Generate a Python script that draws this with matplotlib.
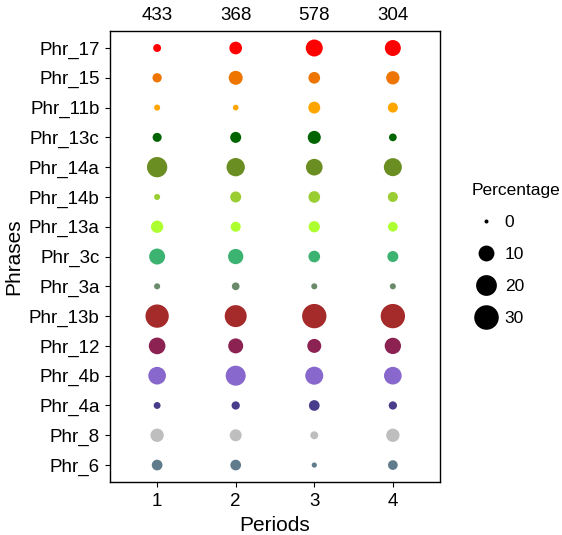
import numpy as np
import matplotlib
matplotlib.use("Agg")
import matplotlib.pyplot as plt
from matplotlib.lines import Line2D

plt.rcParams["font.family"] = ["Liberation Sans", "DejaVu Sans"]

# Phrase categories, top to bottom
phrases = ["Phr_17", "Phr_15", "Phr_11b", "Phr_13c", "Phr_14a", "Phr_14b",
           "Phr_13a", "Phr_3c", "Phr_3a", "Phr_13b", "Phr_12", "Phr_4b",
           "Phr_4a", "Phr_8", "Phr_6"]
phrase_colors = ["#FF0000", "#EE7600", "#FFA500", "#006400", "#6B8E23", "#9ACD32",
                 "#ADFF2F", "#3CB371", "#698B69", "#A52A2A", "#8B2252", "#8968CD",
                 "#483D8B", "#BEBEBE", "#607B8B"]

periods = [1, 2, 3, 4]
period_counts = [433, 368, 578, 304]

# Percentage of each phrase within each period (one list per period)
pct_p1 = [1.1, 2.0, 0.3, 1.8, 18.9, 0.3, 4.9, 10.2, 0.3, 26.5, 11.4, 13.3, 0.6, 6.2, 3.2]
pct_p2 = [5.4, 7.1, 0.2, 3.5, 14.6, 3.5, 2.6, 9.1, 1.0, 23.0, 8.6, 18.2, 1.3, 4.5, 3.2]
pct_p3 = [12.0, 4.2, 4.5, 5.8, 11.4, 4.2, 3.8, 4.2, 0.3, 29.4, 7.1, 14.0, 3.2, 1.1, 0.1]
pct_p4 = [10.2, 6.2, 2.6, 1.0, 14.0, 2.6, 2.3, 3.5, 0.3, 29.4, 10.8, 13.3, 1.3, 6.2, 2.3]

legend_values = [0, 10, 20, 30]

DPI = 100


def diameter_pt(v):
    """Area-style size scale: marker diameter in points for a percentage."""
    d_px = 4.0 + 3.75 * np.sqrt(np.asarray(v, dtype=float))
    return d_px * 72.0 / DPI


fig = plt.figure(figsize=(5.62, 5.35), dpi=DPI)
ax = fig.add_axes([0.1957, 0.099, 0.5872, 0.843])

n = len(phrases)
ypos = np.arange(n, 0, -1)  # Phr_17 at top
for per, pct in zip(periods, [pct_p1, pct_p2, pct_p3, pct_p4]):
    ax.scatter(np.full(n, per), ypos, s=diameter_pt(pct) ** 2,
               c=phrase_colors, linewidths=0, zorder=3)

ax.set_xlim(0.4, 4.6)
ax.set_ylim(0.43, n + 0.57)
ax.set_xticks(periods)
ax.set_xticklabels([str(p) for p in periods])
ax.set_yticks(ypos)
ax.set_yticklabels(phrases)
ax.tick_params(axis="both", labelsize=13.5, colors="black", length=3.5, width=0.8, pad=4)
ax.tick_params(axis="x", pad=4.5)

for sp in ax.spines.values():
    sp.set_linewidth(1.0)
    sp.set_color("black")

ax.set_xlabel("Periods", fontsize=15, labelpad=4)
ax.set_ylabel("Phrases", fontsize=15, labelpad=4)

# Totals per period above the panel
top = ax.secondary_xaxis("top")
top.set_xticks(periods)
top.set_xticklabels([str(c) for c in period_counts])
top.tick_params(length=0, labelsize=13.5, pad=5)
top.spines["top"].set_visible(False)

# Size legend
handles = [Line2D([], [], marker="o", linestyle="", color="black",
                  markeredgewidth=0, markersize=float(diameter_pt(v)))
           for v in legend_values]
leg = fig.legend(handles, [str(v) for v in legend_values], title="Percentage",
                 loc="center left", bbox_to_anchor=(0.824, 0.525),
                 frameon=False, fontsize=12.5, title_fontsize=12.5,
                 labelspacing=0.97, handletextpad=0.3, handlelength=1.6,
                 borderpad=0, alignment="left")

fig.savefig("out.png", dpi=DPI)
